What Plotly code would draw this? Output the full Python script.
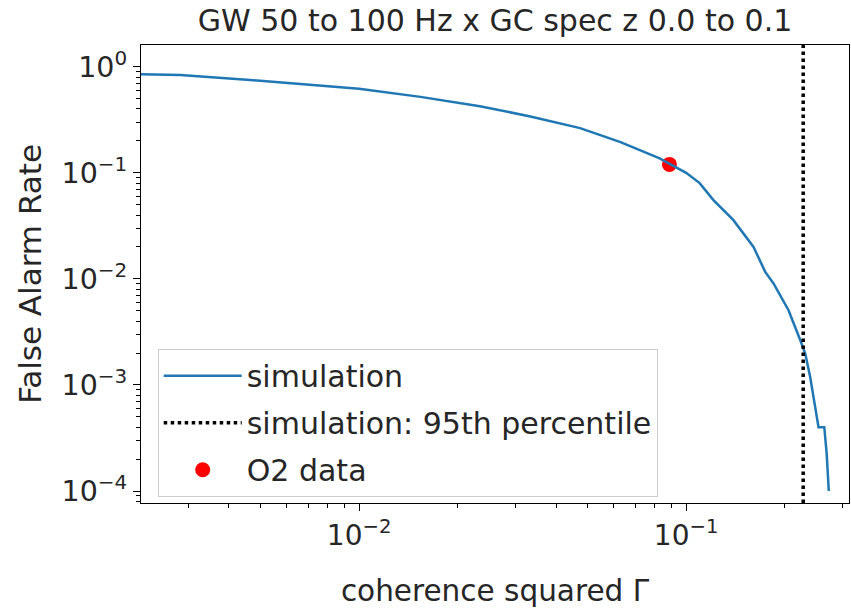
import plotly.graph_objects as go

# Simulation curve (coherence squared vs false alarm rate)
sim_x = [0.00215, 0.00284, 0.00464, 0.0066, 0.0100, 0.0154, 0.0234, 0.0334, 0.0474,
         0.063, 0.083, 0.100, 0.110, 0.1212, 0.1395, 0.1607, 0.1745, 0.185, 0.2056,
         0.2234, 0.2313, 0.2395, 0.248, 0.254, 0.2645, 0.269, 0.273]
sim_y = [0.85, 0.835, 0.75, 0.69, 0.62, 0.52, 0.425, 0.34, 0.264,
         0.195, 0.137, 0.100, 0.080, 0.0553, 0.0358, 0.020, 0.01164, 0.00905, 0.00507,
         0.00264, 0.00198, 0.00119, 0.00062, 0.00040, 0.00040, 0.000225, 0.0001]

percentile_95 = 0.228
o2_x = [0.0889]
o2_y = [0.12]

title = "GW 50 to 100 Hz x GC spec z 0.0 to 0.1"
x_title = "coherence squared Γ"
y_title = "False Alarm Rate"

font_family = "DejaVu Sans"
text_color = "#262626"

fig = go.Figure()
fig.add_trace(go.Scatter(x=o2_x, y=o2_y, mode="markers", name="O2 data",
                         marker=dict(color="red", size=15), legendrank=3,
                         legendgroup="c"))
fig.add_trace(go.Scatter(x=sim_x, y=sim_y, mode="lines", name="simulation",
                         line=dict(color="#1f77b4", width=2.5), legendrank=1,
                         legendgroup="a"))
fig.add_trace(go.Scatter(x=[percentile_95, percentile_95], y=[7.7e-5, 1.6], mode="lines",
                         name="simulation: 95th percentile",
                         line=dict(color="black", width=3.5, dash="dot"), legendrank=2,
                         legendgroup="b"))

def minor_vals(lo, hi):
    vals = []
    for e in range(lo, hi + 1):
        for m in range(2, 10):
            vals.append(m * 10 ** e)
    return vals

x_major = [0.01, 0.1]
y_major = [1e-4, 1e-3, 1e-2, 1e-1, 1]
sup = {-4: "−4", -3: "−3", -2: "−2", -1: "−1", 0: "0"}

fig.update_layout(
    width=851, height=613,
    margin=dict(l=141, r=2, t=45, b=110),
    paper_bgcolor="white", plot_bgcolor="white",
    font=dict(family=font_family, size=29, color=text_color),
    title=dict(text=title, x=0.5, xref="paper", xanchor="center",
               y=0.966, yref="container", yanchor="middle",
               font=dict(size=30, color=text_color)),
    showlegend=True,
    legend=dict(x=0.0236, y=0.0138, xanchor="left", yanchor="bottom",
                bgcolor="rgba(255,255,255,0.8)", bordercolor="#cccccc", borderwidth=1,
                font=dict(size=30, color=text_color), itemwidth=78,
                traceorder="grouped", tracegroupgap=5),
    xaxis=dict(type="log", range=[-2.667, -0.502], showgrid=False, zeroline=False,
               showline=True, linecolor="black", linewidth=1.2, mirror=True,
               ticks="outside", ticklen=7, tickwidth=1.2, tickcolor="black",
               tickvals=x_major, ticktext=["10<sup>−2</sup>", "10<sup>−1</sup>"],
               minor=dict(tickvals=minor_vals(-3, -1), ticks="outside", ticklen=4,
                          tickcolor="black", tickwidth=1),
               title=dict(text=x_title, standoff=29, font=dict(size=29.5)),
               tickfont=dict(size=28)),
    yaxis=dict(type="log", range=[-4.113, 0.205], showgrid=False, zeroline=False,
               showline=True, linecolor="black", linewidth=1.2, mirror=True,
               ticks="outside", ticklen=7, tickwidth=1.2, tickcolor="black",
               tickvals=y_major,
               ticktext=["10<sup>%s</sup>" % sup[e] for e in [-4, -3, -2, -1, 0]],
               minor=dict(tickvals=minor_vals(-5, 0), ticks="outside", ticklen=4,
                          tickcolor="black", tickwidth=1),
               tickfont=dict(size=28.5)),
    annotations=[dict(text=y_title, xref="paper", yref="paper",
                      x=-0.157, y=0.5, xanchor="center", yanchor="middle",
                      textangle=-90, showarrow=False,
                      font=dict(size=31, color=text_color))],
)

fig.write_html("out.html")
